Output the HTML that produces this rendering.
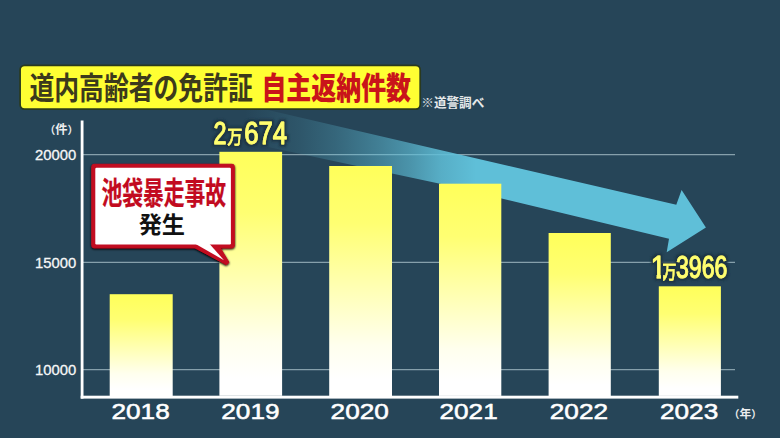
<!DOCTYPE html>
<html lang="ja">
<head>
<meta charset="utf-8">
<title>道内高齢者の免許証 自主返納件数</title>
<style>
html,body{margin:0;padding:0;background:#264558;overflow:hidden;}
svg{display:block;}
.jp{font-family:"Liberation Sans","Noto Sans CJK JP",sans-serif;}
.la{font-family:"Liberation Sans",sans-serif;}
</style>
</head>
<body>
<svg width="780" height="438" viewBox="0 0 780 438">
  <defs>
    <linearGradient id="bar" x1="0" y1="0" x2="0" y2="1">
      <stop offset="0" stop-color="#ffff5a"/>
      <stop offset="0.25" stop-color="#ffff72"/>
      <stop offset="0.78" stop-color="#ffffee"/>
      <stop offset="0.93" stop-color="#ffffff"/>
      <stop offset="1" stop-color="#ffffff"/>
    </linearGradient>
    <linearGradient id="arr" gradientUnits="userSpaceOnUse" x1="245" y1="0" x2="476" y2="0">
      <stop offset="0.000" stop-color="#5fbfd8" stop-opacity="0"/>
      <stop offset="0.108" stop-color="#5fbfd8" stop-opacity="0.06"/>
      <stop offset="0.238" stop-color="#5fbfd8" stop-opacity="0.14"/>
      <stop offset="0.390" stop-color="#5fbfd8" stop-opacity="0.27"/>
      <stop offset="0.584" stop-color="#5fbfd8" stop-opacity="0.48"/>
      <stop offset="0.719" stop-color="#5fbfd8" stop-opacity="0.65"/>
      <stop offset="0.848" stop-color="#5fbfd8" stop-opacity="0.86"/>
      <stop offset="1.000" stop-color="#5fbfd8" stop-opacity="1.0"/>
    </linearGradient>
    <filter id="sh" x="-20%" y="-20%" width="140%" height="140%">
      <feGaussianBlur in="SourceAlpha" stdDeviation="1.1"/>
      <feOffset dx="0" dy="0.6" result="b"/>
      <feComponentTransfer><feFuncA type="linear" slope="1.1"/></feComponentTransfer>
      <feMerge><feMergeNode/><feMergeNode in="SourceGraphic"/></feMerge>
    </filter>
    <filter id="sh2" x="-10%" y="-20%" width="120%" height="140%">
      <feMorphology in="SourceAlpha" operator="dilate" radius="1.5" result="d"/>
      <feGaussianBlur in="d" stdDeviation="0.9" result="b"/>
      <feFlood flood-color="#1c3444" result="c"/>
      <feComposite in="c" in2="b" operator="in" result="h"/>
      <feMerge><feMergeNode in="h"/><feMergeNode in="SourceGraphic"/></feMerge>
    </filter>
    <clipPath id="one"><path clip-rule="evenodd" d="M-10,-40 H130 V12 H-10 Z M-3,-3.8 H8.12 V2 H-3 Z M13.9,-3.8 H17 V2 H13.9 Z"/></clipPath>
  </defs>
  <rect width="780" height="438" fill="#264558"/>

  <!-- gridlines -->
  <g stroke="#86a0ab" stroke-width="1.3">
    <line x1="83" y1="154.7" x2="735" y2="154.7"/>
    <line x1="83" y1="262.4" x2="735" y2="262.4"/>
    <line x1="83" y1="369.7" x2="735" y2="369.7"/>
  </g>

  <!-- arrow -->
  <path fill="url(#arr)" d="M240,103.6 L676.3,204.8 L681.6,190 L705.9,227.4 L666.7,252.2 L669,238.7 L440,183.7 L240,141 Z"/>

  <!-- bars -->
  <g fill="url(#bar)">
    <rect x="109.7" y="294.2" width="63" height="102"/>
    <rect x="219.4" y="151.8" width="62.7" height="244"/>
    <rect x="329.2" y="166" width="62.8" height="230"/>
    <rect x="439.0" y="183.7" width="62.3" height="212.2"/>
    <rect x="548.6" y="233" width="62.2" height="163"/>
    <rect x="658.8" y="286.3" width="62.1" height="109.6"/>
  </g>

  <!-- axes -->
  <rect x="80.7" y="120.5" width="2.8" height="278.1" fill="#ffffff"/>
  <rect x="80.7" y="395.7" width="657.6" height="2.9" fill="#ffffff"/>

  <!-- title box -->
  <rect x="20.1" y="65.4" width="400.1" height="43.7" rx="4.5" ry="4.5" fill="#ffff33" stroke="#2a3a1e" stroke-width="1.7"/>
  <text class="jp" font-weight="700" font-size="30.2" fill="#3c3a1c" transform="translate(29.5,98.6) scale(0.822,1)">道内高齢者の免許証</text>
  <text class="jp" font-weight="900" font-size="30.2" fill="#c9141a" transform="translate(261.4,98.5) scale(0.826,1)">自主返納件数</text>
  <text class="jp" font-weight="700" font-size="12.6" fill="#e6e9ea" x="421.3" y="107.4">※道警調べ</text>

  <!-- y labels -->
  <text class="jp" font-weight="700" font-size="12.2" fill="#eceeef" x="44.4" y="134.2"><tspan font-size="10.8" dy="-0.5">（</tspan><tspan dy="0.5">件</tspan><tspan font-size="10.8" dy="-0.5">）</tspan></text>
  <g class="la" font-size="15" fill="#f6f7f7" stroke="#f6f7f7" stroke-width="0.3" text-anchor="end">
    <text x="76.2" y="160.4" textLength="41.2" lengthAdjust="spacingAndGlyphs">20000</text>
    <text x="76.2" y="267.7" textLength="41.2" lengthAdjust="spacingAndGlyphs">15000</text>
    <text x="76.2" y="374.8" textLength="41.2" lengthAdjust="spacingAndGlyphs">10000</text>
  </g>

  <!-- x labels -->
  <g class="la" font-size="22.3" fill="#ffffff" stroke="#ffffff" stroke-width="0.55" stroke-linejoin="round" text-anchor="middle">
    <text x="140.6" y="419.4" textLength="58.2" lengthAdjust="spacingAndGlyphs">2018</text>
    <text x="250.4" y="419.4" textLength="58.2" lengthAdjust="spacingAndGlyphs">2019</text>
    <text x="359.7" y="419.4" textLength="58.2" lengthAdjust="spacingAndGlyphs">2020</text>
    <text x="468.6" y="419.4" textLength="58.2" lengthAdjust="spacingAndGlyphs">2021</text>
    <text x="578.9" y="419.4" textLength="58.2" lengthAdjust="spacingAndGlyphs">2022</text>
    <text x="689.1" y="419.4" textLength="58.2" lengthAdjust="spacingAndGlyphs">2023</text>
  </g>
  <text class="jp" font-weight="700" font-size="11.8" fill="#eceeef" x="729" y="418"><tspan font-size="10.4" dy="-0.5">（</tspan><tspan dy="0.5">年</tspan><tspan font-size="10.4" dy="-0.5">）</tspan></text>

  <!-- value labels -->
  <g class="jp" fill="#ffff70" stroke="#ffff70" stroke-width="0.9" stroke-linejoin="round" font-size="31.6">
    <g filter="url(#sh2)">
      <text transform="translate(213.5,143.8) scale(0.78,1)"><tspan textLength="16.67" lengthAdjust="spacingAndGlyphs">2</tspan><tspan x="17.56" dy="0.4" font-size="19.5" font-weight="500" stroke-width="0.3">万</tspan><tspan x="39.36" dy="-0.4" textLength="55.08" lengthAdjust="spacingAndGlyphs">674</tspan></text>
    </g>
    <g filter="url(#sh2)">
      <text clip-path="url(#one)" transform="translate(650.8,278.4) scale(0.73,1)"><tspan textLength="20.7" lengthAdjust="spacingAndGlyphs">1</tspan><tspan x="15.62" dy="0.4" font-size="19.5" font-weight="500" stroke-width="0.3">万</tspan><tspan x="34.52" dy="-0.4">3966</tspan></text>
    </g>
  </g>

  <!-- callout -->
  <g filter="url(#sh)" fill="#c20a20" stroke="#c20a20" stroke-width="1" stroke-linejoin="round">
    <rect x="91.8" y="164.3" width="142.5" height="83.5" rx="2.2" ry="2.2"/>
    <path d="M191.6,246 L226.3,264.6 L229.0,262.4 L219.1,246 Z"/>
  </g>
  <rect x="95.3" y="167.7" width="135.6" height="76.7" rx="1.2" ry="1.2" fill="#ffffff"/>
  <path d="M195.6,244 L209.6,244 L224.0,260.2 Z" fill="#ffffff"/>
  <text class="jp" font-weight="700" font-size="31" fill="#c20a20" stroke="#c20a20" stroke-width="0.25" transform="translate(101.5,203.7) scale(0.67,1)">池袋暴走事故</text>
  <text class="jp" font-weight="700" font-size="23.2" fill="#111111" x="138.7" y="233.4">発生</text>
</svg>
</body>
</html>
